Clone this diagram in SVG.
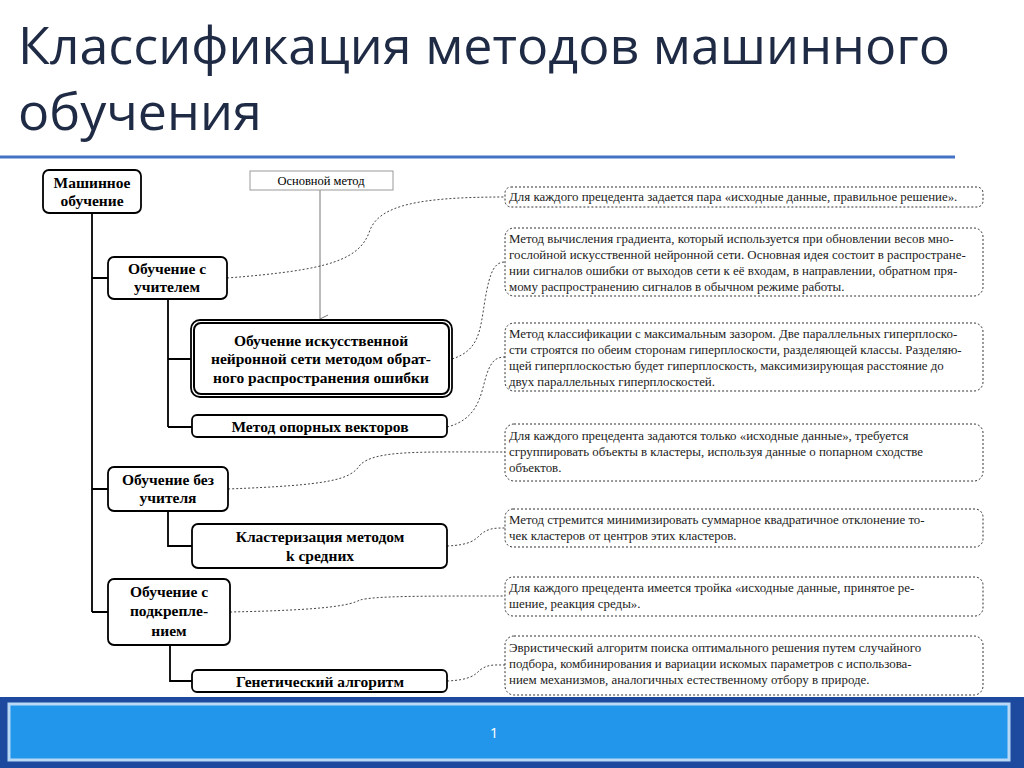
<svg xmlns="http://www.w3.org/2000/svg" width="1024" height="768" viewBox="0 0 1024 768">
<style>
.title{font-family:"Open Sans","Noto Sans",sans-serif;font-size:52px;fill:#1f2b45}
.n{fill:#fff;stroke:#000;stroke-width:1.8}
.nt{font-family:"Liberation Serif",serif;font-weight:bold;font-size:15.5px;text-anchor:middle;fill:#000}
.d{fill:#fff;stroke:#333;stroke-width:1;stroke-dasharray:2,2}
.dt{font-family:"Liberation Serif",serif;font-size:12.9px;fill:#222}
.tree{stroke:#000;stroke-width:1.8;fill:none}
.cv{stroke:#444;stroke-width:1;stroke-dasharray:2,2;fill:none}
</style>
<defs><marker id="ar" markerWidth="10" markerHeight="10" refX="5" refY="9" orient="auto" markerUnits="userSpaceOnUse"><path d="M1,1 L5,9 L9,1" fill="none" stroke="#777"/></marker></defs>
<rect width="1024" height="768" fill="#fff"/>
<text class="title" x="18" y="64">Классификация методов машинного</text>
<text class="title" x="18" y="130">обучения</text>
<line x1="0" y1="157" x2="955" y2="157" stroke="#4472c4" stroke-width="3"/>

<g id="connectors">
<path class="tree" d="M92,213 V612 M92,278 H108 M92,489 H108 M92,612 H108 M168,299 V427 M168,359 H191 M168,427 H192 M168,511 V546 H192 M170,645 V681 H192"/>
<line x1="320" y1="190" x2="320" y2="319" stroke="#777" stroke-width="1" marker-end="url(#ar)"/>
<path class="cv" d="M227,278 C330,270 360,260 370,230 C380,205 420,197 505,197"/>
<path class="cv" d="M452,359 C480,350 480,330 485,300 C490,270 495,262 505,262"/>
<path class="cv" d="M447,427 C475,420 480,400 485,380 C490,362 495,357 505,357"/>
<path class="cv" d="M228,489 C330,485 350,480 360,465 C375,450 420,452 505,452"/>
<path class="cv" d="M447,546 C470,545 475,540 480,535 C488,528 495,528 505,528"/>
<path class="cv" d="M230,612 C330,610 350,605 360,600 C375,596 420,596 505,596"/>
<path class="cv" d="M447,681 C470,680 475,675 480,670 C488,664 495,665 505,665"/>
</g>

<g id="n-main"><rect class="n" x="43" y="170" width="98" height="43" rx="6"/><text class="nt" x="92" y="188">Машинное</text><text class="nt" x="92" y="206">обучение</text></g>
<g id="n-sup"><rect class="n" x="108" y="257" width="119" height="42" rx="6"/><text class="nt" x="167" y="274">Обучение с</text><text class="nt" x="167" y="292">учителем</text></g>
<g id="n-nn"><rect class="n" x="191" y="320" width="261" height="77" rx="9" stroke-width="1.2"/><rect x="194" y="323" width="255" height="71" rx="7" fill="none" stroke="#000" stroke-width="2"/><text class="nt" x="321" y="346">Обучение искусственной</text><text class="nt" x="321" y="364">нейронной сети методом обрат-</text><text class="nt" x="321" y="383">ного распространения ошибки</text></g>
<g id="n-svm"><rect class="n" x="192" y="415" width="255" height="22" rx="5"/><text class="nt" x="320" y="432">Метод опорных векторов</text></g>
<g id="n-unsup"><rect class="n" x="108" y="467" width="120" height="44" rx="6"/><text class="nt" x="168" y="485">Обучение без</text><text class="nt" x="168" y="503">учителя</text></g>
<g id="n-km"><rect class="n" x="192" y="524" width="255" height="44" rx="6"/><text class="nt" x="320" y="542">Кластеризация методом</text><text class="nt" x="320" y="561">k средних</text></g>
<g id="n-rl"><rect class="n" x="108" y="579" width="122" height="66" rx="6"/><text class="nt" x="169" y="597">Обучение с</text><text class="nt" x="169" y="616">подкрепле-</text><text class="nt" x="169" y="636">нием</text></g>
<g id="n-ga"><rect class="n" x="192" y="670" width="255" height="22" rx="5"/><text class="nt" x="320" y="687">Генетический алгоритм</text></g>
<g id="n-basic"><rect x="250" y="171" width="143" height="19" fill="#fff" stroke="#999"/><text x="321" y="185" font-family="Liberation Serif,serif" font-size="12.5" text-anchor="middle">Основной метод</text></g>

<g id="d1"><rect class="d" x="505" y="187" width="478" height="20" rx="6"/><text class="dt" x="509" y="201">Для каждого прецедента задается пара «исходные данные, правильное решение».</text></g>
<g id="d2"><rect class="d" x="505" y="228" width="478" height="68" rx="9"/><text class="dt"><tspan x="509" y="243">Метод вычисления градиента, который используется при обновлении весов мно-</tspan><tspan x="509" y="259">гослойной искусственной нейронной сети. Основная идея состоит в распростране-</tspan><tspan x="509" y="275">нии сигналов ошибки от выходов сети к её входам, в направлении, обратном пря-</tspan><tspan x="509" y="291">мому распространению сигналов в обычном режиме работы.</tspan></text></g>
<g id="d3"><rect class="d" x="505" y="323" width="478" height="68" rx="9"/><text class="dt"><tspan x="509" y="338">Метод классификации с максимальным зазором. Две параллельных гиперплоско-</tspan><tspan x="509" y="354">сти строятся по обеим сторонам гиперплоскости, разделяющей классы. Разделяю-</tspan><tspan x="509" y="370">щей гиперплоскостью будет гиперплоскость, максимизирующая расстояние до</tspan><tspan x="509" y="386">двух параллельных гиперплоскостей.</tspan></text></g>
<g id="d4"><rect class="d" x="505" y="424" width="478" height="57" rx="9"/><text class="dt"><tspan x="509" y="440">Для каждого прецедента задаются только «исходные данные», требуется</tspan><tspan x="509" y="456">сгруппировать объекты в кластеры, используя данные о попарном сходстве</tspan><tspan x="509" y="472">объектов.</tspan></text></g>
<g id="d5"><rect class="d" x="505" y="509" width="478" height="38" rx="8"/><text class="dt"><tspan x="509" y="524">Метод стремится минимизировать суммарное квадратичное отклонение то-</tspan><tspan x="509" y="540">чек кластеров от центров этих кластеров.</tspan></text></g>
<g id="d6"><rect class="d" x="505" y="577" width="478" height="39" rx="8"/><text class="dt"><tspan x="509" y="592">Для каждого прецедента имеется тройка «исходные данные, принятое ре-</tspan><tspan x="509" y="608">шение, реакция среды».</tspan></text></g>
<g id="d7"><rect class="d" x="505" y="636" width="478" height="59" rx="9"/><text class="dt"><tspan x="509" y="652">Эвристический алгоритм поиска оптимального решения путем случайного</tspan><tspan x="509" y="668">подбора, комбинирования и вариации искомых параметров с использова-</tspan><tspan x="509" y="684">нием механизмов, аналогичных естественному отбору в природе.</tspan></text></g>

<rect x="0" y="697" width="1024" height="71" fill="#1d4a9e"/>
<rect x="9" y="704" width="1000" height="56" fill="#2196ea" stroke="#b9d8f5" stroke-width="3"/>
<text x="494" y="738" font-family="Open Sans,sans-serif" font-size="15" fill="#fff" text-anchor="middle">1</text>
</svg>
